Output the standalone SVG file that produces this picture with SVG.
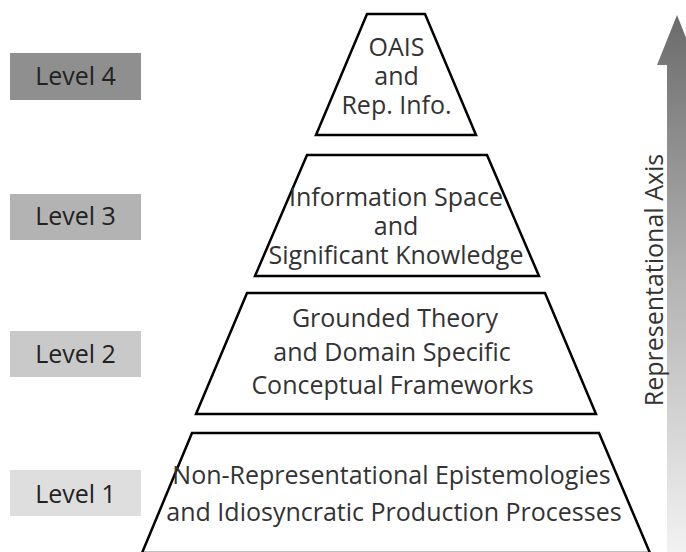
<svg xmlns="http://www.w3.org/2000/svg" width="686" height="552" viewBox="0 0 686 552">
  <defs>
    <linearGradient id="axisFill" x1="0" y1="0" x2="0" y2="1">
      <stop offset="0" stop-color="#6b6b6b"/>
      <stop offset="0.5" stop-color="#b4b4b4"/>
      <stop offset="1" stop-color="#f2f2f2"/>
    </linearGradient>
    <style>
      .lvl text { font-family: "Open Sans", "Liberation Sans", sans-serif; font-size: 25px; fill: #222; text-anchor: middle; }
      .tier polygon { fill: #fff; stroke: #000; stroke-width: 2.5; stroke-linejoin: miter; }
      .tier text { font-family: "Open Sans", "Liberation Sans", sans-serif; font-size: 25px; fill: #333; text-anchor: middle; }
      .axis-label { font-family: "Open Sans", "Liberation Sans", sans-serif; font-size: 25px; fill: #333; text-anchor: middle; }
    </style>
  </defs>

  <rect width="686" height="552" fill="#fff"/>

  <!-- Representational axis arrow -->
  <g id="axis">
    <polygon points="677,15 697,65 687,65 687,552 667,552 667,65 657,65" fill="url(#axisFill)"/>
    <text class="axis-label" transform="translate(663,280) rotate(-90)">Representational Axis</text>
  </g>

  <!-- Level badges -->
  <g id="level4" class="lvl">
    <rect x="10" y="53" width="131" height="47" fill="#8f8f8f"/>
    <text x="75.5" y="85">Level 4</text>
  </g>
  <g id="level3" class="lvl">
    <rect x="10" y="194" width="131" height="46" fill="#b3b3b3"/>
    <text x="75.5" y="225">Level 3</text>
  </g>
  <g id="level2" class="lvl">
    <rect x="10" y="331" width="131" height="46" fill="#c9c9c9"/>
    <text x="75.5" y="363">Level 2</text>
  </g>
  <g id="level1" class="lvl">
    <rect x="10" y="470" width="131" height="46" fill="#dedede"/>
    <text x="75.5" y="503">Level 1</text>
  </g>

  <!-- Pyramid tiers -->
  <g id="tier4" class="tier">
    <polygon points="367,14 425,14 476,135 316,135"/>
    <text x="396.5" y="56">OAIS</text>
    <text x="396.5" y="85">and</text>
    <text x="396.5" y="114">Rep. Info.</text>
  </g>
  <g id="tier3" class="tier">
    <polygon points="307,155 487,155 539,276 255,276"/>
    <text x="396" y="206">Information Space</text>
    <text x="396" y="235">and</text>
    <text x="396" y="264">Significant Knowledge</text>
  </g>
  <g id="tier2" class="tier">
    <polygon points="247,293 545,293 596,414 196,414"/>
    <text x="395" y="327">Grounded Theory</text>
    <text x="392" y="361">and Domain Specific</text>
    <text x="392.5" y="394">Conceptual Frameworks</text>
  </g>
  <g id="tier1" class="tier">
    <polygon points="192,433 599,433 650,553 142,553"/>
    <text x="391.5" y="484">Non-Representational Epistemologies</text>
    <text x="394" y="521">and Idiosyncratic Production Processes</text>
  </g>
</svg>
